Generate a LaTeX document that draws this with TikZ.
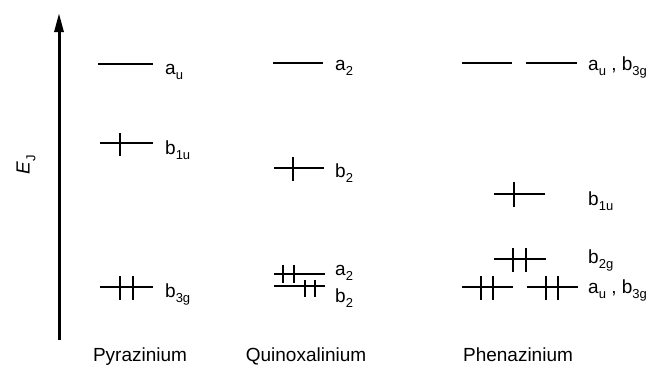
\documentclass[tikz,border=0pt]{standalone}
\usepackage{fontspec}
\setmainfont{Liberation Sans}
\usetikzlibrary{arrows.meta}
\newcommand\lo[1]{\raisebox{-0.3em}{\fontsize{13}{15}\selectfont #1}}
\begin{document}
\begin{tikzpicture}[x=1pt,y=-1pt,
  level/.style={line width=2.7pt},
  spin/.style={line width=2.8pt},
  lbl/.style={anchor=base west,inner sep=0pt,font=\fontsize{19}{22}\selectfont},
  molname/.style={anchor=base,inner sep=0pt,font=\fontsize{19}{22}\selectfont}]
\useasboundingbox (0,0) rectangle (655,367);
% energy axis
\coordinate (axb) at (59,340);
\coordinate (axt) at (59,13);
\draw[line width=3pt,-{Triangle[length=19pt,width=9pt]}] (axb) -- (axt);
\node[rotate=90,inner sep=0pt,font=\fontsize{19}{22}\selectfont] (ej) at (26,165) {\textit{E}\lo{J}};
% Pyrazinium
\draw[level] (98,64) -- (153,64);
\node[lbl] (p1) at (165,74) {a\lo{u}};
\draw[level] (100,143) -- (153,143);
\draw[spin] (120,133) -- (120,156);
\node[lbl] (p2) at (165,154) {b\lo{1u}};
\draw[level] (100,287) -- (153,287);
\draw[spin] (120,276) -- (120,300);
\draw[spin] (133,276) -- (133,300);
\node[lbl] (p3) at (165,297) {b\lo{3g}};
\node[molname] (pn) at (140,361) {Pyrazinium};
% Quinoxalinium
\draw[level] (273,63) -- (323,63);
\node[lbl] (q1) at (335,70) {a\lo{2}};
\draw[level] (274,168) -- (324,168);
\draw[spin] (293,157) -- (293,181);
\node[lbl] (q2) at (335,177) {b\lo{2}};
\draw[level] (274,274) -- (325,274);
\draw[spin] (283,265) -- (283,283);
\draw[spin] (294,265) -- (294,283);
\node[lbl] (q3) at (335,275) {a\lo{2}};
\draw[level] (274,286) -- (325,286);
\draw[spin] (305,280) -- (305,297);
\draw[spin] (315,280) -- (315,297);
\node[lbl] (q4) at (335,302) {b\lo{2}};
\node[molname] (qn) at (306,361) {Quinoxalinium};
% Phenazinium
\draw[level] (462,63) -- (512,63);
\draw[level] (526,63) -- (577,63);
\node[lbl] (h1) at (588,70) {a\lo{u} , b\lo{3g}};
\draw[level] (494,194) -- (545,194);
\draw[spin] (514,182) -- (514,207);
\node[lbl] (h2) at (588,205) {b\lo{1u}};
\draw[level] (494,259) -- (546,259);
\draw[spin] (513,248) -- (513,272);
\draw[spin] (526,248) -- (526,272);
\node[lbl] (h3) at (588,263) {b\lo{2g}};
\draw[level] (462,287) -- (513,287);
\draw[spin] (481,276) -- (481,300);
\draw[spin] (493,276) -- (493,300);
\draw[level] (527,287) -- (578,287);
\draw[spin] (546,276) -- (546,300);
\draw[spin] (558,276) -- (558,300);
\node[lbl] (h4) at (588,293) {a\lo{u} , b\lo{3g}};
\node[molname] (hn) at (518,361) {Phenazinium};
\end{tikzpicture}
\end{document}
